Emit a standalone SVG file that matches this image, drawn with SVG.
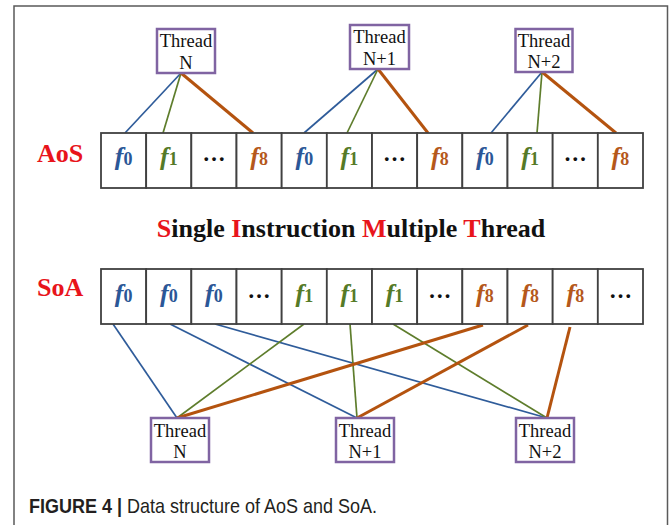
<svg xmlns="http://www.w3.org/2000/svg" width="669" height="525" viewBox="0 0 669 525">
<style>
.frame{fill:none;stroke:#5a5a5a;stroke-width:1.5}
.box{fill:#fff;stroke:#8064a2;stroke-width:2.5}
.tt{font-family:"Liberation Serif",serif;font-size:18.5px;text-anchor:middle;fill:#111}
.cell{fill:#fff;stroke:#404040;stroke-width:1.8}
.f{font-family:"Liberation Serif",serif;font-weight:bold;font-style:italic;font-size:26px;text-anchor:middle}
.sub{font-style:normal;font-size:18px}
.b{fill:#2b5797}.g{fill:#557a27}.o{fill:#b5581b}
.dots{font-family:"Liberation Serif",serif;font-weight:bold;font-size:23px;text-anchor:middle;fill:#111}
.lbl{font-family:"Liberation Serif",serif;font-weight:bold;font-size:26px;fill:#e8141b}
.title{font-family:"Liberation Serif",serif;font-weight:bold;font-size:26px;text-anchor:middle;fill:#111}
.red{fill:#e8141b}
.lb{stroke:#2f5c9a;stroke-width:1.7;fill:none}
.lg{stroke:#5e7d2c;stroke-width:1.7;fill:none}
.lo{stroke:#b4530f;stroke-width:3;fill:none}
.cap{font-family:"Liberation Sans",Arial,sans-serif;font-size:20px;fill:#231f20}
</style>
<path class="frame" d="M14,525 V6 H667.5 V525"/>

<g id="connectors">
  <line class="lb" x1="181" y1="73" x2="125" y2="133"/>
  <line class="lg" x1="181" y1="73" x2="163" y2="133"/>
  <line class="lo" x1="181" y1="73" x2="253" y2="133"/>
  <line class="lb" x1="378" y1="69" x2="304" y2="133"/>
  <line class="lg" x1="378" y1="69" x2="347" y2="133"/>
  <line class="lo" x1="378" y1="69" x2="428" y2="133"/>
  <line class="lb" x1="542" y1="72" x2="491" y2="133"/>
  <line class="lg" x1="542" y1="72" x2="537" y2="133"/>
  <line class="lo" x1="542" y1="72" x2="616" y2="133"/>

  <line class="lb" x1="113" y1="324" x2="177" y2="418"/>
  <line class="lb" x1="170" y1="324" x2="357" y2="418"/>
  <line class="lb" x1="215" y1="324" x2="547" y2="418"/>
  <line class="lg" x1="304" y1="324" x2="177" y2="418"/>
  <line class="lg" x1="350" y1="324" x2="357" y2="418"/>
  <line class="lg" x1="393" y1="324" x2="547" y2="418"/>
  <line class="lo" x1="483" y1="325" x2="177" y2="418"/>
  <line class="lo" x1="528" y1="325" x2="357" y2="418"/>
  <line class="lo" x1="570" y1="327" x2="547" y2="418"/>
</g>

<g id="thread-top-n">
  <rect class="box" x="157" y="29" width="58" height="44"/>
  <text class="tt" x="186" y="47">Thread</text>
  <text class="tt" x="186" y="69">N</text>
</g>
<g id="thread-top-n1">
  <rect class="box" x="350" y="25" width="59" height="44"/>
  <text class="tt" x="379.5" y="43">Thread</text>
  <text class="tt" x="379.5" y="65">N+1</text>
</g>
<g id="thread-top-n2">
  <rect class="box" x="515.5" y="29" width="57" height="43"/>
  <text class="tt" x="544" y="46.5">Thread</text>
  <text class="tt" x="544" y="67.5">N+2</text>
</g>

<g id="aos-label"><text class="lbl" x="37" y="162">AoS</text></g>

<g id="aos-row">
  <rect class="cell" x="101" y="133" width="45.17" height="55"/>
  <rect class="cell" x="146.17" y="133" width="45.17" height="55"/>
  <rect class="cell" x="191.33" y="133" width="45.17" height="55"/>
  <rect class="cell" x="236.5" y="133" width="45.17" height="55"/>
  <rect class="cell" x="281.67" y="133" width="45.17" height="55"/>
  <rect class="cell" x="326.83" y="133" width="45.17" height="55"/>
  <rect class="cell" x="372" y="133" width="45.17" height="55"/>
  <rect class="cell" x="417.17" y="133" width="45.17" height="55"/>
  <rect class="cell" x="462.33" y="133" width="45.17" height="55"/>
  <rect class="cell" x="507.5" y="133" width="45.17" height="55"/>
  <rect class="cell" x="552.67" y="133" width="45.17" height="55"/>
  <rect class="cell" x="597.83" y="133" width="45.17" height="55"/>
  <text class="f b" x="123.6" y="165">f<tspan class="sub">0</tspan></text>
  <text class="f g" x="168.8" y="165">f<tspan class="sub">1</tspan></text>
  <text class="dots" x="213.9" y="161">…</text>
  <text class="f o" x="259.1" y="165">f<tspan class="sub">8</tspan></text>
  <text class="f b" x="304.3" y="165">f<tspan class="sub">0</tspan></text>
  <text class="f g" x="349.4" y="165">f<tspan class="sub">1</tspan></text>
  <text class="dots" x="394.6" y="161">…</text>
  <text class="f o" x="439.8" y="165">f<tspan class="sub">8</tspan></text>
  <text class="f b" x="484.9" y="165">f<tspan class="sub">0</tspan></text>
  <text class="f g" x="530.1" y="165">f<tspan class="sub">1</tspan></text>
  <text class="dots" x="575.3" y="161">…</text>
  <text class="f o" x="620.4" y="165">f<tspan class="sub">8</tspan></text>
</g>

<g id="title">
  <text class="title" x="351" y="237"><tspan class="red">S</tspan>ingle <tspan class="red">I</tspan>nstruction <tspan class="red">M</tspan>ultiple <tspan class="red">T</tspan>hread</text>
</g>

<g id="soa-label"><text class="lbl" x="37" y="296">SoA</text></g>

<g id="soa-row">
  <rect class="cell" x="101" y="269" width="45.17" height="55"/>
  <rect class="cell" x="146.17" y="269" width="45.17" height="55"/>
  <rect class="cell" x="191.33" y="269" width="45.17" height="55"/>
  <rect class="cell" x="236.5" y="269" width="45.17" height="55"/>
  <rect class="cell" x="281.67" y="269" width="45.17" height="55"/>
  <rect class="cell" x="326.83" y="269" width="45.17" height="55"/>
  <rect class="cell" x="372" y="269" width="45.17" height="55"/>
  <rect class="cell" x="417.17" y="269" width="45.17" height="55"/>
  <rect class="cell" x="462.33" y="269" width="45.17" height="55"/>
  <rect class="cell" x="507.5" y="269" width="45.17" height="55"/>
  <rect class="cell" x="552.67" y="269" width="45.17" height="55"/>
  <rect class="cell" x="597.83" y="269" width="45.17" height="55"/>
  <text class="f b" x="123.6" y="302">f<tspan class="sub">0</tspan></text>
  <text class="f b" x="168.8" y="302">f<tspan class="sub">0</tspan></text>
  <text class="f b" x="213.9" y="302">f<tspan class="sub">0</tspan></text>
  <text class="dots" x="259.1" y="298">…</text>
  <text class="f g" x="304.3" y="302">f<tspan class="sub">1</tspan></text>
  <text class="f g" x="349.4" y="302">f<tspan class="sub">1</tspan></text>
  <text class="f g" x="394.6" y="302">f<tspan class="sub">1</tspan></text>
  <text class="dots" x="439.8" y="298">…</text>
  <text class="f o" x="484.9" y="302">f<tspan class="sub">8</tspan></text>
  <text class="f o" x="530.1" y="302">f<tspan class="sub">8</tspan></text>
  <text class="f o" x="575.3" y="302">f<tspan class="sub">8</tspan></text>
  <text class="dots" x="620.4" y="298">…</text>
</g>

<g id="thread-bot-n">
  <rect class="box" x="151" y="418" width="58" height="44"/>
  <text class="tt" x="180" y="437">Thread</text>
  <text class="tt" x="180" y="458">N</text>
</g>
<g id="thread-bot-n1">
  <rect class="box" x="336" y="418" width="58" height="44"/>
  <text class="tt" x="365" y="437">Thread</text>
  <text class="tt" x="365" y="458">N+1</text>
</g>
<g id="thread-bot-n2">
  <rect class="box" x="516" y="418" width="58" height="44"/>
  <text class="tt" x="545" y="437">Thread</text>
  <text class="tt" x="545" y="458">N+2</text>
</g>

<g id="caption">
  <text class="cap" transform="translate(29,513) scale(0.9,1)"><tspan font-weight="bold">FIGURE 4 | </tspan>Data structure of AoS and SoA.</text>
</g>
</svg>
